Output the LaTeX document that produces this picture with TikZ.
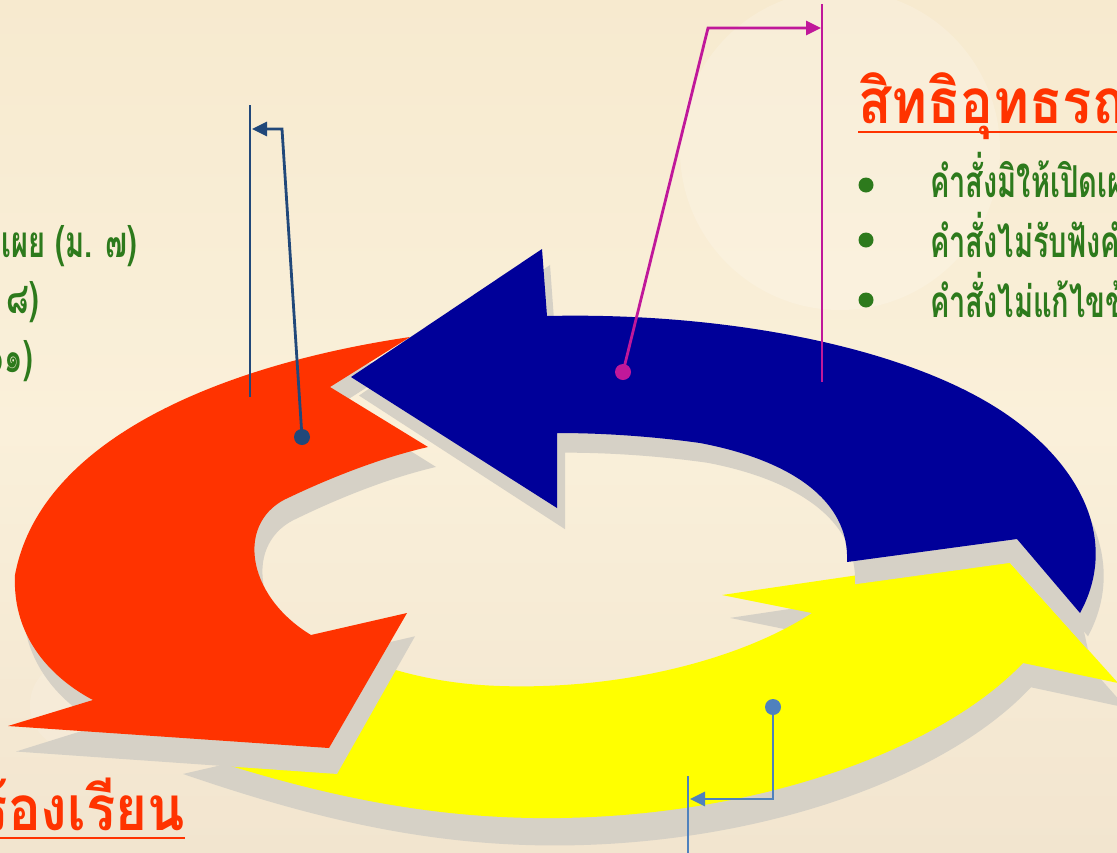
\documentclass[tikz,border=0pt]{standalone}
\usepackage{fontspec}
\newfontfamily\thaifont[Script=Thai,FakeStretch=0.88]{Loma}
\newfontfamily\thaicond[Script=Thai,FakeStretch=0.66]{Loma}
\usetikzlibrary{arrows.meta}
\definecolor{arrowred}{RGB}{255,51,0}
\definecolor{arrowblue}{RGB}{0,0,153}
\definecolor{arrowyellow}{RGB}{255,255,0}
\definecolor{shadowgray}{RGB}{214,209,198}
\definecolor{calloutnavy}{RGB}{33,72,122}
\definecolor{calloutpink}{RGB}{192,24,154}
\definecolor{calloutsteel}{RGB}{79,129,189}
\definecolor{textgreen}{RGB}{45,122,28}
\definecolor{bgtop}{RGB}{247,234,207}
\definecolor{bgmid}{RGB}{250,240,218}
\definecolor{bgbottom}{RGB}{242,229,207}
\tikzset{
  callout/.style={line width=2.8pt},
  callbar/.style={line width=2.2pt},
  calltip/.style={-{Triangle[length=15pt,width=14pt]}},
  bulletdot/.style={circle,fill=textgreen,inner sep=0pt,minimum size=15pt},
  bodytext/.style={inner sep=0pt,text=textgreen,font=\thaicond\bfseries\fontsize{44}{48}\selectfont},
  titletext/.style={inner sep=0pt,text=arrowred,font=\thaifont\bfseries\fontsize{62}{66}\selectfont},
  titleline/.style={arrowred,line width=2.2pt}
}
\def\redpath{(410,337) .. controls (220,365) and (40,440) .. (15,575) .. controls (12,640) and (55,680) .. (93,700) -- (8,726) -- (329,748) -- (407,613) -- (311,635) .. controls (245,595) and (235,520) .. (290,497) .. controls (330,478) and (380,458) .. (428,447) -- (330,387) -- cycle}
\def\bluepath{(351,377) -- (542,249) -- (547,316) .. controls (720,312) and (900,345) .. (1000,410) .. controls (1080,462) and (1120,540) .. (1080,613) -- (1017,539) -- (847,562) .. controls (850,500) and (790,460) .. (700,443) .. controls (650,436) and (600,433) .. (557,433) -- (557,508) -- cycle}
\def\yellowpath{(175,748) .. controls (300,790) and (420,820) .. (560,818) .. controls (760,815) and (940,750) .. (1023,663) -- (1118,683) -- (1002,554) -- (722,595) -- (812,613) .. controls (740,660) and (620,690) .. (500,686) .. controls (440,684) and (400,672) .. (370,662) -- (290,722) -- cycle}
\begin{document}
\begin{tikzpicture}[x=1pt,y=-1pt]
\useasboundingbox (0,0) rectangle (1117,852);
\clip (0,0) rectangle (1117,852);
\shade[top color=bgtop,bottom color=bgbottom,middle color=bgmid] (-2,-2) rectangle (1119,854);
\fill[white,opacity=0.18] (840,150) circle (160);
\fill[white,opacity=0.12] (75,705) circle (45);

\begin{scope}[shift={(8,11)},yscale=1.02]
\fill[shadowgray] \yellowpath;
\end{scope}
\fill[arrowyellow] \yellowpath;
\begin{scope}[shift={(8,11)},yscale=1.02]
\fill[shadowgray] \redpath;
\end{scope}
\fill[arrowred] \redpath;
\begin{scope}[shift={(8,11)},yscale=1.02]
\fill[shadowgray] \bluepath;
\end{scope}
\fill[shadowgray] (1017,539) -- (1080,613) -- (1088,650) -- (1002,554) -- cycle;
\fill[arrowblue] \bluepath;

\coordinate (navyDot) at (302,437);
\coordinate (navyBend) at (282,129);
\coordinate (navyHit) at (252,129);
\coordinate (navyTop) at (250,105);
\coordinate (navyBottom) at (250,397);
\draw[calloutnavy,callbar] (navyTop) -- (navyBottom);
\draw[calloutnavy,callout,calltip] (navyDot) -- (navyBend) -- (navyHit);
\fill[calloutnavy] (navyDot) circle (8);

\coordinate (pinkDot) at (623,372);
\coordinate (pinkBend) at (708,28);
\coordinate (pinkHit) at (821,28);
\coordinate (pinkTop) at (822,4);
\coordinate (pinkBottom) at (822,382);
\draw[calloutpink,callbar] (pinkTop) -- (pinkBottom);
\draw[calloutpink,callout,calltip] (pinkDot) -- (pinkBend) -- (pinkHit);
\fill[calloutpink] (pinkDot) circle (8);

\coordinate (steelDot) at (773,707);
\coordinate (steelBend) at (773,799);
\coordinate (steelHit) at (690,799);
\coordinate (steelTop) at (688,776);
\coordinate (steelBottom) at (688,860);
\draw[calloutsteel,callbar] (steelTop) -- (steelBottom);
\draw[calloutsteel,callout,calltip] (steelDot) -- (steelBend) -- (steelHit);
\fill[calloutsteel] (steelDot) circle (8);

\node[titletext,anchor=base west] (appealTitle) at (858,123) {สิทธิอุทธรณ์};
\draw[titleline] ([yshift=-9pt]appealTitle.base west) -- ([yshift=-9pt]appealTitle.base east);
\node[bulletdot] (dotA) at (866,185) {};
\node[bulletdot] (dotB) at (866,240) {};
\node[bulletdot] (dotC) at (866,300) {};
\node[bodytext,anchor=base west] (appealA) at (930,197) {คำสั่งมิให้เปิดเผยข้อมูล};
\node[bodytext,anchor=base west] (appealB) at (930,257) {คำสั่งไม่รับฟังคำคัดค้าน};
\node[bodytext,anchor=base west] (appealC) at (930,317) {คำสั่งไม่แก้ไขข้อมูล};

\node[bodytext,anchor=base east] (infoA) at (137,257) {เปิดเผย (ม. ๗)};
\node[bodytext,anchor=base east] (infoB) at (39,313) {(ม. ๘)};
\node[bodytext,anchor=base east] (infoC) at (33,372) {(ม. ๑๑)};

\node[titletext,anchor=base east] (complainTitle) at (185,830) {สิทธิร้องเรียน};
\draw[titleline] ([yshift=-8pt]complainTitle.base west) -- ([yshift=-8pt]complainTitle.base east);
\end{tikzpicture}
\end{document}
